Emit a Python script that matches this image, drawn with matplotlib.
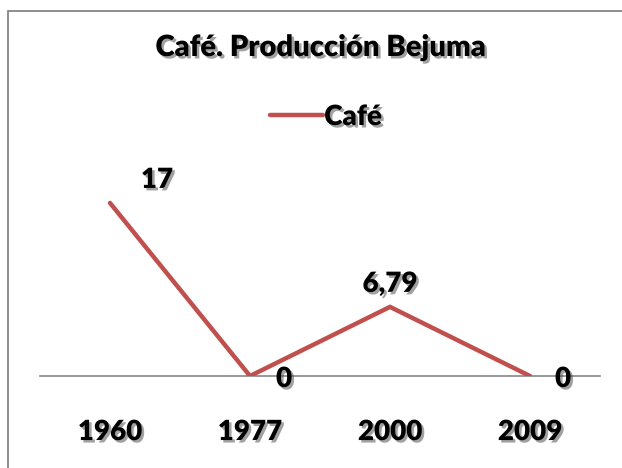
import matplotlib
matplotlib.use('Agg')
import matplotlib.pyplot as plt
import matplotlib.patheffects as pe
from matplotlib.patches import Rectangle

# Datos
anios = ['1960', '1977', '2000', '2009']
cafe = [17, 0, 6.79, 0]
etiquetas = ['17', '0', '6,79', '0']
desplazamientos = [(47, 23), (34, -3), (0, 23), (33, -3)]  # pixeles

plt.rcParams['font.family'] = ['Lato', 'DejaVu Sans']
plt.rcParams['font.weight'] = 'heavy'

sombra = [pe.withSimplePatchShadow(offset=(1.8, -1.8), shadow_rgbFace='#444444', alpha=0.5)]

fig = plt.figure(figsize=(6.22, 4.68), dpi=100)
W, H = 622, 468

# borde del grafico
fig.patches.append(Rectangle((8 / W, -0.1), 1.2, 1 - 11 / H + 0.1, transform=fig.transFigure,
                             fill=False, edgecolor='#868686', linewidth=1.3))

ax = fig.add_axes([40 / W, (H - 376) / H, 560 / W, 203.6 / H])
x = list(range(len(anios)))
linea, = ax.plot(x, cafe, color='#C0504D', linewidth=3.2, solid_capstyle='round',
                 solid_joinstyle='miter', label='Café', zorder=3)
ax.set_xlim(-0.5, 3.5)
ax.set_ylim(0, 20)
ax.set_xticks(x)
ax.set_xticklabels(anios, fontsize=20, fontweight='heavy', path_effects=sombra)
ax.tick_params(axis='x', length=0, pad=31)
ax.set_yticks([])
for s in ['left', 'right', 'top']:
    ax.spines[s].set_visible(False)
ax.spines['bottom'].set_color('#868686')
ax.spines['bottom'].set_linewidth(1.2)
ax.spines['bottom'].set_zorder(2)

for xi, v, t, d in zip(x, cafe, etiquetas, desplazamientos):
    ax.annotate(t, (xi, v), xytext=d, textcoords='offset pixels', ha='center', va='center',
                fontsize=20, fontweight='heavy', path_effects=sombra, annotation_clip=False)

fig.text(320 / W, 1 - 48 / H, 'Café. Producción Bejuma', ha='center', va='center',
         fontsize=21, fontweight='heavy', path_effects=sombra)

leg = fig.legend(handles=[linea], loc='center', bbox_to_anchor=(326 / W, 1 - 117 / H),
                 frameon=False, fontsize=20, handlelength=1.9, handletextpad=0.05)
for t in leg.get_texts():
    t.set_path_effects(sombra)
    t.set_fontweight('heavy')

fig.savefig('out.png', dpi=100)
